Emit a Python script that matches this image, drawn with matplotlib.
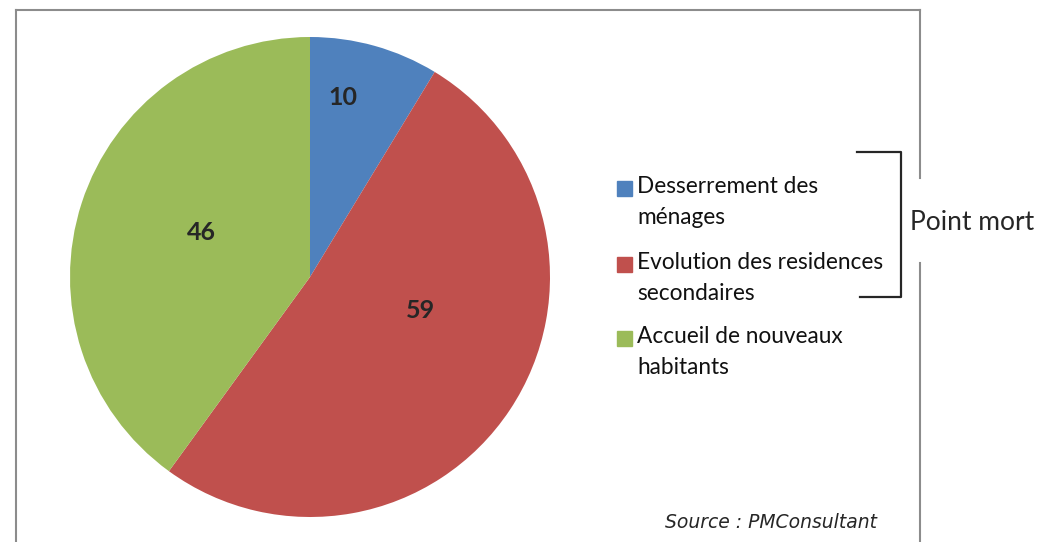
import matplotlib.pyplot as plt
import numpy as np
from matplotlib.lines import Line2D

categories = ["Desserrement des\nménages", "Evolution des residences\nsecondaires", "Accueil de nouveaux\nhabitants"]
values = [10, 59, 46]
colors = ["#4F81BD", "#C0504D", "#9BBB59"]
# label placement inside each wedge (fraction of wedge angle, fraction of radius)
label_frac = [0.33, 0.41, 0.53]
label_r = [0.76, 0.48, 0.49]

W, H = 1041, 542
fig = plt.figure(figsize=(W / 100, H / 100), dpi=100)
plt.rcParams["font.family"] = ["Lato", "DejaVu Sans"]


def fx(px):
    return px / W


def fy(py):
    return 1 - py / H


# pie axes: centre (310, 277), radius 240 px
ax = fig.add_axes([fx(70), fy(517), 480 / W, 480 / H])
wedges, _ = ax.pie(values, colors=colors, startangle=90, counterclock=False, radius=1,
                   wedgeprops=dict(linewidth=0))
ax.set_xlim(-1, 1)
ax.set_ylim(-1, 1)
ax.set_aspect("equal")
ax.axis("off")

total = sum(values)
start = 0.0
for v, f, r in zip(values, label_frac, label_r):
    span = v / total * 360
    ang = np.deg2rad(start + f * span)
    ax.text(r * np.sin(ang), r * np.cos(ang), str(v), ha="center", va="center",
            fontsize=18, fontweight="bold", color="#262626")
    start += span

# frame
frame_kw = dict(color="#8c8c8c", linewidth=1.5, transform=fig.transFigure)
fig.add_artist(Line2D([fx(16), fx(920)], [fy(10), fy(10)], **frame_kw))
fig.add_artist(Line2D([fx(16), fx(16)], [fy(10), fy(545)], **frame_kw))
fig.add_artist(Line2D([fx(920), fx(920)], [fy(10), fy(178)], **frame_kw))
fig.add_artist(Line2D([fx(920), fx(920)], [fy(263), fy(545)], **frame_kw))

# legend
leg_y = [202, 278, 352]
for lab, c, y in zip(categories, colors, leg_y):
    fig.patches.append(plt.Rectangle((fx(617), fy(y - 6)), 15 / W, 15 / H, color=c,
                                     transform=fig.transFigure, figure=fig))
    fig.text(fx(637), fy(y), lab, ha="left", va="center", fontsize=16.3,
             color="#111111", linespacing=1.6)

# bracket
fig.add_artist(Line2D([fx(857), fx(901), fx(901), fx(860)],
                      [fy(152), fy(152), fy(297), fy(297)],
                      color="#262626", linewidth=1.6, transform=fig.transFigure))
fig.text(fx(910), fy(222), "Point mort", ha="left", va="center", fontsize=19, color="#262626")

fig.text(fx(877), fy(522), "Source : PMConsultant", ha="right", va="center",
         fontsize=13.5, style="italic", color="#262626", family="DejaVu Sans")

fig.savefig("out.png", dpi=100)
